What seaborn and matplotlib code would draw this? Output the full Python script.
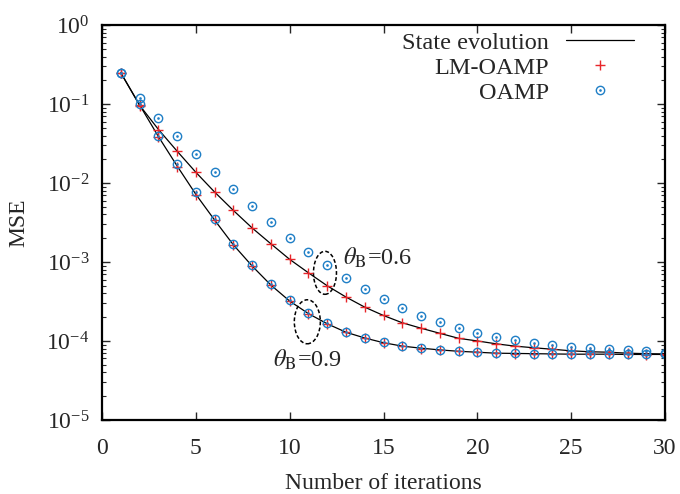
import numpy as np
import pandas as pd
import matplotlib
matplotlib.use("Agg")
import matplotlib.pyplot as plt
from matplotlib.lines import Line2D
from matplotlib.patches import Ellipse
from matplotlib.path import Path
from matplotlib.transforms import ScaledTranslation
import seaborn as sns

# iterations
iters = list(range(1, 31))

# theta_B = 0.6
se_06 = [0.25, 0.097, 0.048, 0.0254, 0.0137, 0.0077, 0.0045, 0.0027, 0.0017, 0.00108,
         0.00073, 0.0005, 0.00036, 0.000268, 0.00021, 0.00017, 0.000145, 0.000125, 0.000108, 0.0001,
         9.2e-5, 8.6e-5, 8.2e-5, 7.85e-5, 7.5e-5, 7.3e-5, 7.2e-5, 7.0e-5, 6.9e-5, 6.85e-5]
lm_06 = [0.25, 0.096, 0.047, 0.0252, 0.0137, 0.0076, 0.0045, 0.00269, 0.00169, 0.00108,
         0.00073, 0.000497, 0.000357, 0.000267, 0.000211, 0.00017, 0.000146, 0.000125, 0.000108, 0.0001,
         9.2e-5, 8.6e-5, 8.2e-5, 7.85e-5, 7.5e-5, 7.3e-5, 7.2e-5, 7.0e-5, 6.9e-5, 6.9e-5]
oamp_06 = [0.25, 0.119, 0.067, 0.0394, 0.0233, 0.0138, 0.0083, 0.0051, 0.00318, 0.00203,
           0.00133, 0.00091, 0.00063, 0.00045, 0.000337, 0.000262, 0.000209, 0.000172, 0.000145, 0.000127,
           0.000112, 0.000103, 9.4e-5, 8.8e-5, 8.4e-5, 8.1e-5, 7.85e-5, 7.6e-5, 7.4e-5, 7.1e-5]

# theta_B = 0.9
se_09 = [0.25, 0.098, 0.039, 0.0165, 0.0072, 0.0034, 0.00165, 0.00089, 0.00051, 0.00032,
         0.000222, 0.000165, 0.000129, 0.000109, 9.5e-5, 8.6e-5, 8.1e-5, 7.7e-5, 7.4e-5, 7.2e-5,
         7.0e-5, 6.95e-5, 6.9e-5, 6.85e-5, 6.8e-5, 6.8e-5, 6.8e-5, 6.75e-5, 6.75e-5, 6.75e-5]
lm_09 = [0.25, 0.097, 0.038, 0.0162, 0.0071, 0.0034, 0.00163, 0.00088, 0.00051, 0.00032,
         0.00022, 0.000164, 0.000129, 0.000108, 9.5e-5, 8.6e-5, 8.0e-5, 7.7e-5, 7.4e-5, 7.2e-5,
         7.0e-5, 6.9e-5, 6.9e-5, 6.85e-5, 6.8e-5, 6.8e-5, 6.75e-5, 6.75e-5, 6.7e-5, 6.7e-5]
oamp_09 = [0.25, 0.1, 0.040, 0.0172, 0.0076, 0.00355, 0.0017, 0.00092, 0.000527, 0.00033,
           0.000228, 0.000168, 0.000131, 0.00011, 9.6e-5, 8.7e-5, 8.2e-5, 7.7e-5, 7.4e-5, 7.2e-5,
           7.0e-5, 6.95e-5, 6.9e-5, 6.9e-5, 6.85e-5, 6.85e-5, 6.8e-5, 6.8e-5, 6.8e-5, 6.8e-5]

legend_labels = ["State evolution", "LM-OAMP", "OAMP"]
theta_labels = [r"$\theta_{\rm B}$=0.6", r"$\theta_{\rm B}$=0.9"]

red = "#e8262a"
blue = "#1f7fc6"

sns.set_theme(style="ticks")
plt.rcParams["font.family"] = ["Liberation Serif", "DejaVu Serif"]
plt.rcParams["mathtext.fontset"] = "stix"
plt.rcParams["font.size"] = 17


def long_df(a, b):
    return pd.DataFrame({
        "iter": iters + iters,
        "mse": a + b,
        "theta": ["0.6"] * len(iters) + ["0.9"] * len(iters),
    })


se_df = long_df(se_06, se_09)
lm_df = long_df(lm_06, lm_09)
oamp_df = long_df(oamp_06, oamp_09)

# circle with a dot in the middle, like gnuplot's point type
circ_dot = Path.make_compound_path(Path.unit_circle(), Path.circle((0, 0), 0.15))

fig = plt.figure(figsize=(6.8, 4.94), dpi=100)
ax = fig.add_axes([0.15, 0.15, 0.828, 0.799])

sns.lineplot(data=se_df, x="iter", y="mse", units="theta", estimator=None,
             color="black", linewidth=0.9, legend=False, ax=ax)
sns.lineplot(data=lm_df, x="iter", y="mse", units="theta", estimator=None,
             color=red, linestyle="", marker="+", markersize=6.5, markeredgewidth=1.0,
             markeredgecolor=red, legend=False, ax=ax)
sns.lineplot(data=oamp_df, x="iter", y="mse", units="theta", estimator=None,
             color=blue, linestyle="", marker=circ_dot, markersize=6, markeredgewidth=1.0,
             markerfacecolor="none", markeredgecolor=blue, legend=False, ax=ax)

ax.set_yscale("log")
ax.set_xlim(0, 30)
ax.set_ylim(1e-5, 1)
ax.set_xticks([0, 5, 10, 15, 20, 25, 30])
ax.set_xlabel("Number of iterations", fontsize=17, labelpad=10)
ax.set_ylabel("MSE", fontsize=17, labelpad=12)
ax.tick_params(which="both", direction="in", top=True, right=True, labelsize=17)
ax.tick_params(axis="x", pad=13)
ax.tick_params(axis="y", pad=9)
ax.tick_params(which="major", length=6, width=1)
ax.minorticks_off()
ax.yaxis.set_minor_locator(matplotlib.ticker.LogLocator(base=10, subs=np.arange(2, 10), numticks=20))
ax.tick_params(axis="y", which="minor", direction="in", left=True, right=True, length=3, width=0.8)
for s in ax.spines.values():
    s.set_linewidth(1.6)
    s.set_color("black")

# dashed ellipses marking the two groups
for xc, yc, w, h in [(11.88, 7.3e-4, 0.23, 0.43), (10.94, 1.75e-4, 0.26, 0.44)]:
    tr = fig.dpi_scale_trans + ScaledTranslation(xc, yc, ax.transData)
    ax.add_patch(Ellipse((0, 0), w, h, transform=tr, fill=False,
                         linestyle=(0, (2.5, 1.5)), linewidth=1.1, edgecolor="black"))

ax.text(12.82, 1.12e-3, theta_labels[0], fontsize=17.5, va="center", ha="left")
ax.text(9.09, 5.75e-5, theta_labels[1], fontsize=17.5, va="center", ha="left")

handles = [
    Line2D([], [], color="black", linewidth=0.9),
    Line2D([], [], color=red, linestyle="", marker="+", markersize=6.5, markeredgewidth=1.0),
    Line2D([], [], color=blue, linestyle="", marker=circ_dot, markersize=6,
           markerfacecolor="none", markeredgewidth=1.0),
]
ax.legend(handles, legend_labels, loc="upper right", bbox_to_anchor=(0.962, 1.008),
          borderaxespad=0, frameon=False, markerfirst=False, handlelength=2.8,
          handletextpad=0.7, labelspacing=0.12, fontsize=17.5)

fig.savefig("out.png", dpi=100)
